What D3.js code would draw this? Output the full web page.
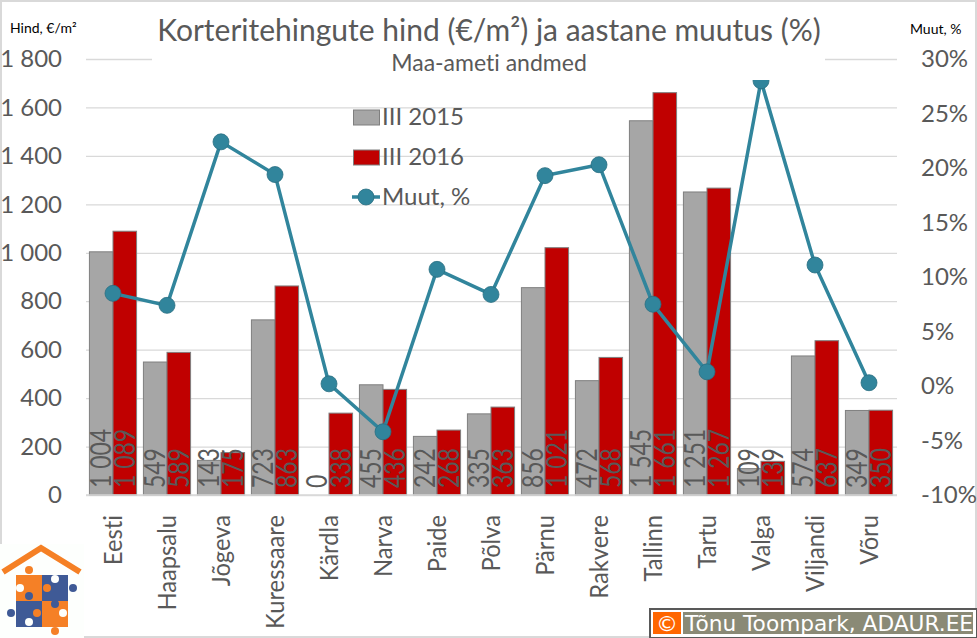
<!DOCTYPE html>
<html>
<head>
<meta charset="utf-8">
<script src="https://cdn.jsdelivr.net/npm/d3@7"></script>
<style>
html, body { margin: 0; padding: 0; background: #fff; overflow: hidden; }
text { font-family: Lato, "Open Sans", sans-serif; font-variant-ligatures: none; }
</style>
</head>
<body>
<div id="viz"></div>
<script>
const categories = ["Eesti", "Haapsalu", "Jõgeva", "Kuressaare", "Kärdla", "Narva", "Paide", "Põlva", "Pärnu", "Rakvere", "Tallinn", "Tartu", "Valga", "Viljandi", "Võru"]
const values2015 = [1004, 549, 143, 723, 0, 455, 242, 335, 856, 472, 1545, 1251, 109, 574, 349]
const values2016 = [1089, 589, 175, 863, 338, 436, 268, 363, 1021, 568, 1661, 1267, 139, 637, 350]
const change = [8.5, 7.4, 22.4, 19.4, 0.2, -4.2, 10.7, 8.4, 19.3, 20.3, 7.5, 1.3, 28, 11.1, 0.3]
const priceTicks = [0, 200, 400, 600, 800, 1000, 1200, 1400, 1600, 1800]
const changeTicks = [-10, -5, 0, 5, 10, 15, 20, 25, 30]
const legendLabels = ["III 2015", "III 2016", "Muut, %"]

const width = 977
const height = 638
const textColor = "#595959"
const gridColor = "#d9d9d9"
const lineColor = "#31859c"

const fmt = d => String(d).replace(/\B(?=(\d{3})+$)/g, " ")

const svg = d3.select("#viz").append("svg")
  .attr("width", width)
  .attr("height", height)
  .style("display", "block")

svg.append("rect")
  .attr("x", 1).attr("y", 1)
  .attr("width", width - 2).attr("height", height - 2)
  .attr("fill", "#fff")
  .attr("stroke", gridColor)
  .attr("stroke-width", 2)

const x = d3.scaleBand().domain(categories).range([86, 896])
const inner = d3.scaleBand().domain([0, 1]).range([0, x.bandwidth()]).paddingInner(0).paddingOuter(0.145)
const y = d3.scaleLinear().domain([0, 1800]).range([495, 59])
const y2 = d3.scaleLinear().domain([-10, 30]).range([495, 59])

// grid + left axis
const left = svg.append("g")
  .attr("transform", "translate(86,0)")
  .call(d3.axisLeft(y).tickValues(priceTicks).tickFormat(fmt).tickSize(-811).tickPadding(24))
left.select(".domain").remove()
left.selectAll("line").attr("stroke", gridColor).attr("stroke-width", 1.3)
left.selectAll("text")
  .attr("fill", textColor)
  .style("font-size", "24px")
  .attr("dy", "0.32em")

// right axis
const right = svg.append("g")
  .attr("transform", "translate(897,0)")
  .call(d3.axisRight(y2).tickValues(changeTicks).tickFormat(d => d + "%").tickSize(0).tickPadding(24))
right.select(".domain").remove()
right.selectAll("text")
  .attr("fill", textColor)
  .style("font-size", "24px")
  .attr("dy", "0.32em")

// bars
const seriesList = [
  { values: values2015, fill: "#a6a6a6", idx: 0 },
  { values: values2016, fill: "#c00000", idx: 1 }
]

seriesList.forEach(s => {
  svg.append("g").selectAll("rect")
    .data(s.values)
    .enter()
    .append("rect")
    .attr("x", (d, i) => x(categories[i]) + inner(s.idx))
    .attr("y", d => y(d))
    .attr("width", inner.bandwidth())
    .attr("height", d => y(0) - y(d))
    .attr("fill", s.fill)
    .attr("stroke", d => d > 0 ? "#7f7f7f" : "none")
    .attr("stroke-width", 1)
})

// the reference is stretched sideways, so rotated text is squeezed along its length
seriesList.forEach(s => {
  svg.append("g").selectAll("text")
    .data(s.values)
    .enter()
    .append("text")
    .attr("transform", (d, i) => {
      const cx = x(categories[i]) + inner(s.idx) + inner.bandwidth() / 2
      return "translate(" + cx + ",488) rotate(-90) scale(0.82,1)"
    })
    .attr("dy", "0.35em")
    .attr("fill", textColor)
    .style("font-size", "28px")
    .text(d => fmt(d))
})

// line
const lineGen = d3.line()
  .x((d, i) => x(categories[i]) + x.bandwidth() / 2)
  .y(d => y2(d))

svg.append("path")
  .datum(change)
  .attr("d", lineGen)
  .attr("fill", "none")
  .attr("stroke", lineColor)
  .attr("stroke-width", 3.5)

svg.append("g").selectAll("circle")
  .data(change)
  .enter()
  .append("circle")
  .attr("cx", (d, i) => x(categories[i]) + x.bandwidth() / 2)
  .attr("cy", d => y2(d))
  .attr("r", 8)
  .attr("fill", lineColor)
  .attr("stroke", "#2a6f82")
  .attr("stroke-width", 0.8)

// title box hides the top gridline and the top of the Valga marker
svg.append("rect")
  .attr("x", 152).attr("y", 4)
  .attr("width", 673).attr("height", 76)
  .attr("fill", "#fff")

svg.append("text")
  .attr("x", 489).attr("y", 41)
  .attr("text-anchor", "middle")
  .attr("fill", textColor)
  .style("font-size", "30px")
  .text("Korteritehingute hind (€/m²) ja aastane muutus (%)")

svg.append("text")
  .attr("x", 489).attr("y", 71)
  .attr("text-anchor", "middle")
  .attr("fill", textColor)
  .style("font-size", "23px")
  .text("Maa-ameti andmed")

svg.append("text")
  .attr("x", 10).attr("y", 33)
  .attr("fill", "#000")
  .style("font-size", "14px")
  .text("Hind, €/m²")

svg.append("text")
  .attr("x", 910).attr("y", 34)
  .attr("fill", "#000")
  .style("font-size", "14px")
  .text("Muut, %")

// category labels
const bottom = svg.append("g")
  .attr("transform", "translate(0,495)")
  .call(d3.axisBottom(x).tickSize(0))
bottom.select(".domain").attr("stroke", gridColor).attr("stroke-width", 1.3)
  .attr("d", "M86,0H897")
bottom.selectAll("text")
  .attr("transform", "translate(0,20) rotate(-90) scale(0.95,1)")
  .attr("x", 0)
  .attr("y", 0)
  .attr("dy", "0.35em")
  .attr("text-anchor", "end")
  .attr("fill", textColor)
  .style("font-size", "25px")

// legend
const legendY = [117, 157, 197]
const legend = svg.append("g")
legendLabels.forEach((label, i) => {
  if (i < 2) {
    legend.append("rect")
      .attr("x", 353.5).attr("y", legendY[i] - 7)
      .attr("width", 26).attr("height", 15)
      .attr("fill", seriesList[i].fill)
      .attr("stroke", "#7f7f7f")
  } else {
    legend.append("line")
      .attr("x1", 352).attr("x2", 380)
      .attr("y1", legendY[i]).attr("y2", legendY[i])
      .attr("stroke", lineColor).attr("stroke-width", 3.5)
    legend.append("circle")
      .attr("cx", 366).attr("cy", legendY[i]).attr("r", 8)
      .attr("fill", lineColor)
      .attr("stroke", "#2a6f82").attr("stroke-width", 0.8)
  }
  legend.append("text")
    .attr("x", 382).attr("y", legendY[i] + 8)
    .attr("fill", textColor)
    .style("font-size", "24px")
    .text(label)
})

// logo
const logo = svg.append("g")
logo.append("rect").attr("x", 0).attr("y", 544).attr("width", 84).attr("height", 94).attr("fill", "#fdfffd")
logo.append("path")
  .attr("d", "M3 572 L41 548 L80 572")
  .attr("fill", "none").attr("stroke", "#f58025").attr("stroke-width", 6)
const orange = "#f58026"
const blue = "#3f5a96"
logo.append("rect").attr("x", 16).attr("y", 575).attr("width", 26).attr("height", 26).attr("fill", orange)
logo.append("rect").attr("x", 42).attr("y", 575).attr("width", 26).attr("height", 26).attr("fill", blue)
logo.append("rect").attr("x", 16).attr("y", 601).attr("width", 26).attr("height", 26).attr("fill", blue)
logo.append("rect").attr("x", 42).attr("y", 601).attr("width", 26).attr("height", 26).attr("fill", orange)
const knobs = [
  [29, 570, orange], [73, 588, blue], [11, 613, blue], [55, 631, orange],
  [47, 588, orange], [29, 596, blue], [55, 604, blue], [37, 613, orange],
  [20, 588, "#fdfffd"], [55, 579, "#fdfffd"], [29, 622, "#fdfffd"], [63, 613, "#fdfffd"]
]
logo.selectAll("circle").data(knobs).enter().append("circle")
  .attr("cx", d => d[0]).attr("cy", d => d[1]).attr("r", 4).attr("fill", d => d[2])

// copyright box
const credit = svg.append("g")
credit.append("rect").attr("x", 650).attr("y", 609).attr("width", 327).attr("height", 29).attr("fill", "#fff").attr("stroke", "#595959").attr("stroke-width", 2)
credit.append("rect").attr("x", 653).attr("y", 612).attr("width", 28).attr("height", 22).attr("fill", "#ff6600")
credit.append("rect").attr("x", 683).attr("y", 612).attr("width", 290).attr("height", 22).attr("fill", "#8a8a76")
credit.append("text").attr("x", 667).attr("y", 631).attr("text-anchor", "middle").attr("fill", "#fff")
  .style("font-family", "DejaVu Sans").style("font-size", "22px").text("©")
credit.append("text").attr("x", 685).attr("y", 631).attr("fill", "#fff")
  .style("font-family", "DejaVu Sans").style("font-size", "21.7px").text("Tõnu Toompark, ADAUR.EE")
</script>
</body>
</html>
